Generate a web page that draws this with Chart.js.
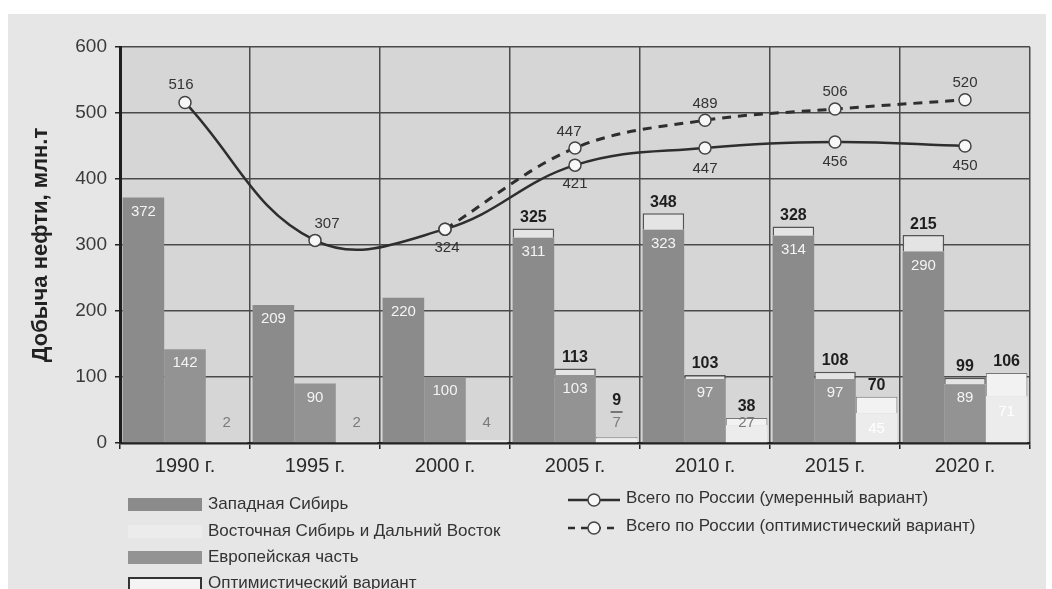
<!DOCTYPE html>
<html lang="ru">
<head>
<meta charset="utf-8">
<script src="https://cdn.jsdelivr.net/npm/chart.js@4.4.1/dist/chart.umd.min.js"></script>
<style>
  html, body { margin: 0; padding: 0; background: #ffffff; }
  #paper { position: absolute; left: 8px; top: 14px; width: 1038px; height: 575px; background: #e6e6e6; }
  #wrap { position: absolute; left: 0; top: 0; width: 1052px; height: 589px; }
  .leg { position: absolute; font-family: 'Liberation Sans', Arial, sans-serif; font-size: 17px; color: #333; white-space: nowrap; }
  .sw { position: absolute; width: 74px; height: 13px; }
</style>
</head>
<body>
<div id="paper"></div>
<div id="wrap"><canvas id="myChart" width="1052" height="589"></canvas></div>
<div id="legend"></div>
<script>
const years = ['1990 г.', '1995 г.', '2000 г.', '2005 г.', '2010 г.', '2015 г.', '2020 г.'];

// Западная Сибирь
const zsMod = [372, 209, 220, 311, 323, 314, 290];
const zsOpt = [null, null, null, 325, 348, 328, 315];
// Европейская часть
const euMod = [142, 90, 100, 103, 97, 97, 89];
const euOpt = [null, null, null, 113, 103, 108, 99];
// Восточная Сибирь и Дальний Восток
const vsMod = [2, 2, 4, 7, 27, 45, 71];
const vsOpt = [null, null, null, 9, 38, 70, 106];
// Всего по России
const rusMod = [516, 307, 324, 421, 447, 456, 450];
const rusOpt = [null, null, 324, 447, 489, 506, 520];
// the printed label in the source for 2020 (bar height reads ~315)
const zsOptPrinted = { 6: '215' };

const yMax = 600;
const yStep = 100;

const DARK = '#8b8b8b';
const MID = '#939393';
const LIGHT = '#ececec';
const INK = '#2e2e2e';

function diff(opt, mod) {
    return opt.map((v, i) => v == null ? null : v - mod[i]);
}

const plotBg = {
    id: 'plotBg',
    beforeDraw(chart) {
        const a = chart.chartArea, c = chart.ctx;
        c.save();
        c.fillStyle = '#d6d6d6';
        c.fillRect(a.left, a.top, a.right - a.left, a.bottom - a.top);
        c.restore();
    }
};

const valueLabels = {
    id: 'valueLabels',
    afterDatasetsDraw(chart) {
        const c = chart.ctx;
        const y0 = chart.scales.y.getPixelForValue(0);
        c.save();
        c.textAlign = 'center';
        c.textBaseline = 'middle';
        chart.data.datasets.forEach((ds, di) => {
            const meta = chart.getDatasetMeta(di);
            const kind = ds.kind;
            meta.data.forEach((el, i) => {
                if (kind === 'mod') {
                    const v = ds.data[i];
                    const h = y0 - el.y;
                    c.font = '15px "Liberation Sans", Arial, sans-serif';
                    if (ds.region === 'vs') {
                        if (h < 25) {
                            c.fillStyle = '#7a7a7a';
                            c.fillText(String(v), el.x, y0 - 20);
                        } else {
                            c.fillStyle = '#ffffff';
                            c.fillText(String(v), el.x, el.y + 16);
                        }
                    } else {
                        c.fillStyle = '#f4f4f4';
                        c.fillText(String(v), el.x, el.y + 14);
                    }
                } else if (kind === 'opt') {
                    const v = ds.src[i];
                    if (v == null) return;
                    let txt = String(v);
                    if (ds.region === 'zs' && zsOptPrinted[i]) txt = zsOptPrinted[i];
                    c.font = 'bold 16px "Liberation Sans", Arial, sans-serif';
                    c.fillStyle = '#1e1e1e';
                    let ty = el.y - 11;
                    if (ds.region === 'vs' && y0 - el.y < 25) {
                        ty = y0 - 42;
                        c.fillText(txt, el.x, ty);
                        c.strokeStyle = '#555';
                        c.lineWidth = 1.5;
                        c.beginPath();
                        c.moveTo(el.x - 6, ty + 11);
                        c.lineTo(el.x + 6, ty + 11);
                        c.stroke();
                        return;
                    }
                    c.fillText(txt, el.x, ty);
                } else if (kind === 'line') {
                    const v = ds.data[i];
                    if (v == null || el.skip) return;
                    if (ds.shared && ds.shared[i]) return;
                    const pos = ds.labelPos[i];
                    c.font = '15px "Liberation Sans", Arial, sans-serif';
                    c.fillStyle = '#333';
                    c.fillText(String(v), el.x + pos[0], el.y + pos[1]);
                }
            });
        });
        c.restore();
    }
};

const ctx = document.getElementById('myChart').getContext('2d');

const myChart = new Chart(ctx, {
    data: {
        labels: years,
        datasets: [
            {
                type: 'bar', label: 'Западная Сибирь', kind: 'mod', region: 'zs',
                data: zsMod, stack: 'zs', backgroundColor: DARK, order: 2
            },
            {
                type: 'bar', label: 'Оптимистический вариант', kind: 'opt', region: 'zs', src: zsOpt,
                data: diff(zsOpt, zsMod), stack: 'zs', backgroundColor: '#e4e4e4',
                borderColor: '#555', borderWidth: { top: 1.5, left: 1.5, right: 1.5, bottom: 0 }, order: 2
            },
            {
                type: 'bar', label: 'Европейская часть', kind: 'mod', region: 'eu',
                data: euMod, stack: 'eu', backgroundColor: MID, order: 2
            },
            {
                type: 'bar', label: 'Оптимистический вариант', kind: 'opt', region: 'eu', src: euOpt,
                data: diff(euOpt, euMod), stack: 'eu', backgroundColor: '#e4e4e4',
                borderColor: '#555', borderWidth: { top: 1.5, left: 1.5, right: 1.5, bottom: 0 }, order: 2
            },
            {
                type: 'bar', label: 'Восточная Сибирь и Дальний Восток', kind: 'mod', region: 'vs',
                data: vsMod, stack: 'vs', backgroundColor: LIGHT, order: 2
            },
            {
                type: 'bar', label: 'Оптимистический вариант', kind: 'opt', region: 'vs', src: vsOpt,
                data: diff(vsOpt, vsMod), stack: 'vs', backgroundColor: '#f2f2f2',
                borderColor: '#777', borderWidth: { top: 1, left: 1, right: 1, bottom: 0 }, order: 2
            },
            {
                type: 'line', label: 'Всего по России (умеренный вариант)', kind: 'line',
                data: rusMod, stack: 'rusMod', borderColor: INK, borderWidth: 2.5, tension: 0.4,
                pointRadius: 6, pointBackgroundColor: '#f7f7f7', pointBorderColor: '#444', pointBorderWidth: 1.5,
                labelPos: [[-4, -18], [12, -17], [2, 19], [0, 19], [0, 21], [0, 20], [0, 20]],
                order: 1
            },
            {
                type: 'line', label: 'Всего по России (оптимистический вариант)', kind: 'line',
                data: rusOpt, stack: 'rusOpt', borderColor: INK, borderWidth: 3, borderDash: [9, 7], tension: 0.35,
                pointRadius: 6, pointBackgroundColor: '#f7f7f7', pointBorderColor: '#444', pointBorderWidth: 1.5,
                shared: [false, false, true, false, false, false, false],
                labelPos: [[0, 0], [0, 0], [0, 0], [-6, -16], [0, -16], [0, -17], [0, -17]],
                order: 0
            }
        ]
    },
    options: {
        responsive: false,
        animation: false,
        layout: { padding: { left: 28, right: 22, top: 47, bottom: 0 } },
        datasets: {
            bar: { categoryPercentage: 0.96, barPercentage: 1 }
        },
        plugins: {
            legend: { display: false }, // own legend below
            tooltip: { enabled: false }
        },
        scales: {
            x: {
                stacked: true,
                grid: { color: '#4a4a4a', lineWidth: 1.5, offset: true, tickLength: 6, tickColor: '#222' },
                border: { color: '#222', width: 2.5 },
                ticks: { color: '#2a2a2a', font: { family: 'Liberation Sans', size: 20 }, padding: 5 },
                afterFit(scale) { scale.height = 146; }
            },
            y: {
                stacked: true,
                min: 0, max: yMax,
                ticks: { stepSize: yStep, color: '#3a3a3a', font: { family: 'Liberation Sans', size: 19 }, padding: 8 },
                grid: { color: '#4a4a4a', lineWidth: 1.5, tickLength: 5, tickColor: '#222' },
                border: { color: '#1e1e1e', width: 3 },
                title: {
                    display: true, text: 'Добыча нефти, млн.т', color: '#222',
                    font: { family: 'Liberation Sans', size: 22, weight: 'bold' }, padding: { top: 0, bottom: 0 }
                },
                afterFit(scale) { scale.width = 92; }
            }
        }
    },
    plugins: [plotBg, valueLabels]
});

// legend, two columns like the printed figure
const legend = document.getElementById('legend');
const leftRows = [
    { text: 'Западная Сибирь', fill: DARK, border: 'none', y: 496 },
    { text: 'Восточная Сибирь и Дальний Восток', fill: LIGHT, border: 'none', y: 523 },
    { text: 'Европейская часть', fill: MID, border: 'none', y: 549 },
    { text: 'Оптимистический вариант', fill: '#f4f4f4', border: '2px solid #333', y: 575 }
];
leftRows.forEach(r => {
    const sw = document.createElement('div');
    sw.className = 'sw';
    sw.style.left = '128px';
    sw.style.top = (r.y + 2) + 'px';
    sw.style.background = r.fill;
    if (r.border !== 'none') { sw.style.border = r.border; sw.style.width = '70px'; sw.style.height = '11px'; }
    legend.appendChild(sw);
    const t = document.createElement('div');
    t.className = 'leg';
    t.style.left = '208px';
    t.style.top = (r.y - 2) + 'px';
    t.textContent = r.text;
    legend.appendChild(t);
});

const rightRows = [
    { text: 'Всего по России (умеренный вариант)', dash: false, y: 489 },
    { text: 'Всего по России (оптимистический вариант)', dash: true, y: 517 }
];
rightRows.forEach(r => {
    const c = document.createElement('canvas');
    c.width = 56; c.height = 20;
    c.style.position = 'absolute';
    c.style.left = '566px';
    c.style.top = (r.y + 1) + 'px';
    const g = c.getContext('2d');
    g.strokeStyle = INK;
    g.lineWidth = 2.5;
    if (r.dash) g.setLineDash([7, 6]);
    g.beginPath(); g.moveTo(2, 10); g.lineTo(54, 10); g.stroke();
    g.setLineDash([]);
    g.fillStyle = '#f7f7f7';
    g.lineWidth = 1.5;
    g.strokeStyle = '#444';
    g.beginPath(); g.arc(28, 10, 6, 0, Math.PI * 2); g.fill(); g.stroke();
    legend.appendChild(c);
    const t = document.createElement('div');
    t.className = 'leg';
    t.style.left = '626px';
    t.style.top = (r.y - 1) + 'px';
    t.textContent = r.text;
    legend.appendChild(t);
});
</script>
</body>
</html>
